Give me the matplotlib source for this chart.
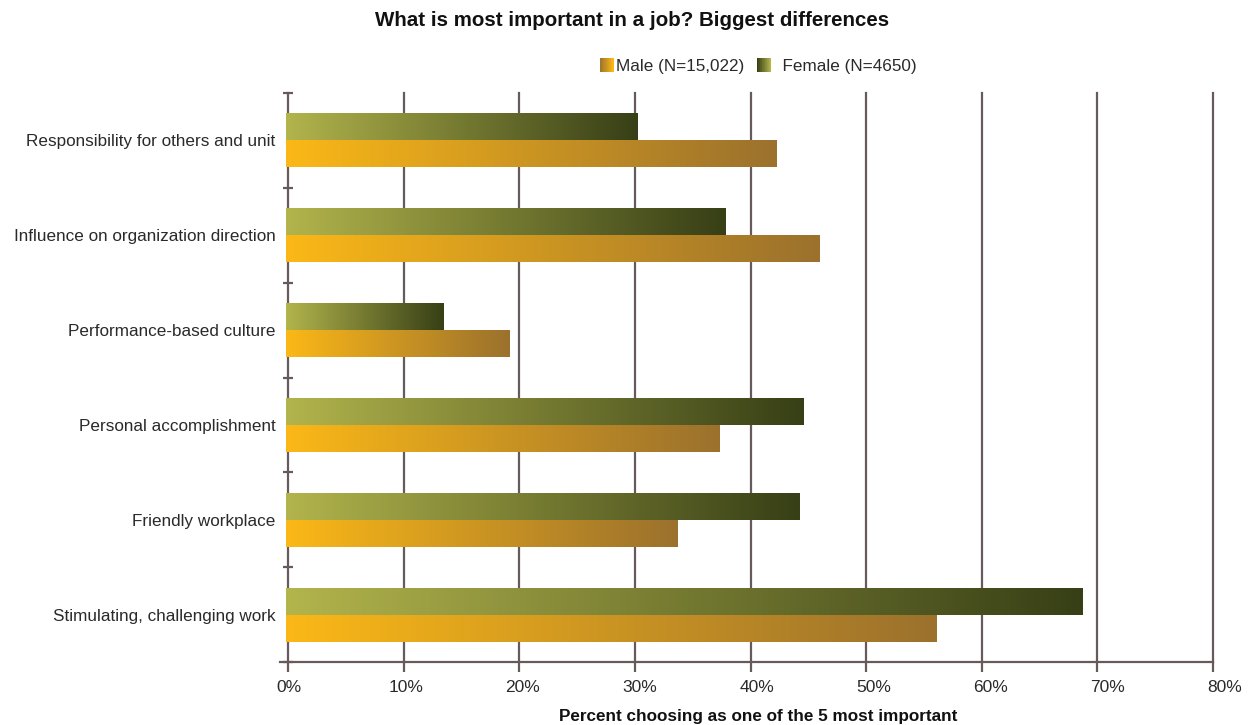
import numpy as np
import matplotlib
matplotlib.use("Agg")
import matplotlib.pyplot as plt
from matplotlib.colors import LinearSegmentedColormap, to_rgb
from matplotlib.legend_handler import HandlerBase
from matplotlib.patches import Rectangle, Patch
from matplotlib.transforms import ScaledTranslation

plt.rcParams['font.family'] = ['Liberation Sans', 'DejaVu Sans']

categories = ["Responsibility for others and unit",
              "Influence on organization direction",
              "Performance-based culture",
              "Personal accomplishment",
              "Friendly workplace",
              "Stimulating, challenging work"]
female = [30.4, 38.0, 13.6, 44.8, 44.4, 68.9]
male = [42.4, 46.1, 19.3, 37.5, 33.9, 56.3]
xticks = [0, 10, 20, 30, 40, 50, 60, 70, 80]
xticklabels = [f"{t}%" for t in xticks]

male_cols = ("#fbb817", "#9b712d")
female_cols = ("#b2b44c", "#373f16")
grid_col = "#675a5a"
text_col = "#2a2a2a"

fig = plt.figure(figsize=(12.49, 7.25), dpi=100)
ax = fig.add_axes([288/1249, 1-662/725, (1213-288)/1249, (662-93)/725])

cm_m = LinearSegmentedColormap.from_list("m", male_cols)
cm_f = LinearSegmentedColormap.from_list("f", female_cols)
grad = np.linspace(0, 1, 256).reshape(1, -1)

y = np.arange(len(categories))
h = 0.285
for vals, offs, cm in ((female, -0.142, cm_f), (male, 0.142, cm_m)):
    bars = ax.barh(y + offs, vals, height=h, left=-0.2, facecolor='none',
                   edgecolor='none', zorder=3)
    for b in bars:
        x0, y0 = b.get_x(), b.get_y()
        im = ax.imshow(grad, extent=[x0, x0 + b.get_width(), y0 + b.get_height(), y0],
                       aspect='auto', cmap=cm, zorder=3, interpolation='bilinear')
        im.set_clip_path(b)

ax.set_xlim(0, 80)
ax.set_ylim(5.5, -0.5)
ax.set_xticks(xticks)
ax.set_xticklabels([])
for t, lab in zip(xticks, xticklabels):
    tr = ax.get_xaxis_transform() + ScaledTranslation(0.01 + t * 0.135 / 100, -0.26, fig.dpi_scale_trans)
    ax.text(t, 0, lab, transform=tr, ha='center', va='center', fontsize=12.5, color=text_col)
ax.set_yticks(y)
ax.set_yticklabels(categories, fontsize=12.3, color=text_col)
ax.tick_params(axis='y', which='major', length=0, pad=9)
ax.set_yticks(np.arange(-0.5, 6, 1), minor=True)
ax.tick_params(axis='y', which='minor', length=7, direction='inout', color=grid_col, width=1.6)
ax.tick_params(axis='x', length=7, direction='out', color=grid_col, width=1.6)
for x in xticks[1:]:
    ax.axvline(x, color=grid_col, lw=1.6, zorder=1, clip_on=False)
for s in ('top', 'right'):
    ax.spines[s].set_visible(False)
ax.spines['left'].set_color(grid_col)
ax.spines['left'].set_linewidth(1.6)
ax.spines['bottom'].set_color(grid_col)
ax.spines['bottom'].set_linewidth(1.6)
ax.plot([-0.7, 0], [5.5, 5.5], color=grid_col, lw=1.6, clip_on=False, zorder=4)

fig.text(758/1249, 1-716/725, "Percent choosing as one of the 5 most important",
         ha='center', va='center', fontsize=12.3, fontweight='bold', color="#111111")
fig.text(632/1249, 1-20/725, "What is most important in a job? Biggest differences",
         ha='center', va='center', fontsize=14.8, fontweight='bold', color="#111111")


class GradHandler(HandlerBase):
    def __init__(self, cols):
        super().__init__()
        self.cols = cols

    def create_artists(self, legend, orig_handle, xdescent, ydescent, width, height, fontsize, trans):
        c0, c1 = np.array(to_rgb(self.cols[0])), np.array(to_rgb(self.cols[1]))
        n = 20
        side = 10.0
        arts = []
        for i in range(n):
            t = i / (n - 1)
            col = c1 * (1 - t) + c0 * t
            r = Rectangle((-xdescent + width - side + side * i / n, -ydescent + (height - side) / 2),
                          side / n + 0.3, side,
                          facecolor=col, edgecolor='none', transform=trans)
            arts.append(r)
        return arts


hm, hf = Patch(), Patch()
leg = fig.legend([hm, hf], ["Male (N=15,022)", "  Female (N=4650)"],
                 handler_map={hm: GradHandler(male_cols), hf: GradHandler(female_cols)},
                 loc='center', bbox_to_anchor=(758/1249, 1-66/725), ncol=2, frameon=False,
                 fontsize=12.3, handlelength=0.85, handletextpad=0.15, columnspacing=0.7,
                 handleheight=1.0, borderpad=0, borderaxespad=0)
for t in leg.get_texts():
    t.set_color(text_col)

fig.savefig("out.png", dpi=100)
